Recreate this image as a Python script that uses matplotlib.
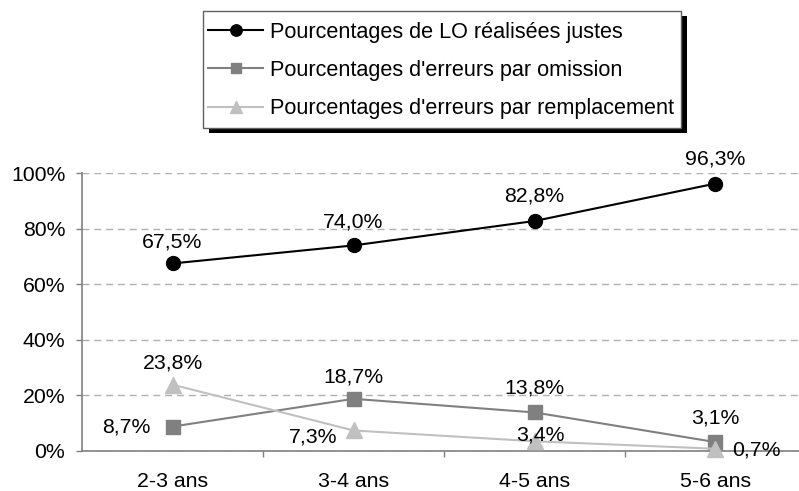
import matplotlib
matplotlib.use("Agg")
import matplotlib.pyplot as plt
from matplotlib.patches import Rectangle

plt.rcParams['font.family'] = ['Liberation Sans', 'DejaVu Sans']

categories = ["2-3 ans", "3-4 ans", "4-5 ans", "5-6 ans"]
justes = [67.5, 74.0, 82.8, 96.3]
omission = [8.7, 18.7, 13.8, 3.1]
remplacement = [23.8, 7.3, 3.4, 0.7]
series_names = ["Pourcentages de LO réalisées justes",
                "Pourcentages d'erreurs par omission",
                "Pourcentages d'erreurs par remplacement"]
yticks = [0, 20, 40, 60, 80, 100]

W, H = 799, 491
fig = plt.figure(figsize=(W / 100, H / 100), dpi=100)
ax = fig.add_axes([82 / W, (H - 450.7) / H, 724 / W, 277.4 / H])

x = list(range(len(categories)))
styles = [
    dict(color="black", marker="o", markersize=10, mfc="black", mec="black"),
    dict(color="#808080", marker="s", markersize=9.5, mfc="#808080", mec="#808080"),
    dict(color="#c0c0c0", marker="^", markersize=11, mfc="#c0c0c0", mec="#c0c0c0"),
]
handles = []
for vals, st, name in zip([justes, omission, remplacement], styles, series_names):
    h, = ax.plot(x, vals, lw=1.5, label=name, clip_on=False, zorder=3, **st)
    handles.append(h)

fmt = lambda v: f"{v:.1f}%".replace(".", ",")
# label offsets in pixels (dx, dy)
offs = [
    [(0, 21), (0, 23), (0, 25), (0, 25)],
    [(-46, 0), (0, 22), (0, 24), (0, 24)],
    [(0, 22), (-40, -7), (6, 6), (41, -1)],
]
for vals, off in zip([justes, omission, remplacement], offs):
    for xi, v, (dx, dy) in zip(x, vals, off):
        ax.annotate(fmt(v), (xi, v), xytext=(dx, dy), textcoords="offset pixels",
                    ha="center", va="center", fontsize=15.3, color="black", zorder=5)

ax.set_xlim(-0.5, 3.5)
ax.set_ylim(0, 100)
ax.set_yticks(yticks)
ax.set_yticklabels([f"{t}%" for t in yticks])
ax.yaxis.grid(True, color="#b0b0b0", linestyle=(0, (5, 3.5)), linewidth=1)
ax.set_axisbelow(True)
ax.set_xticks(x)
ax.set_xticklabels(categories)
ax.set_xticks([0.5, 1.5, 2.5, 3.5], minor=True)
ax.tick_params(axis="x", which="major", length=0, pad=15, labelsize=15.3)
ax.tick_params(axis="x", which="minor", length=4, width=1, color="#808080", direction="out")
ax.tick_params(axis="y", length=4, width=1, color="#808080", pad=8, labelsize=15.3)
for s in ["top", "right"]:
    ax.spines[s].set_visible(False)
for s in ["left", "bottom"]:
    ax.spines[s].set_color("#808080")
    ax.spines[s].set_linewidth(1.2)

# legend box with shadow (pixel coordinates)
bx0, bx1, by0, by1 = 203, 681, 11, 128
fig.patches.append(Rectangle(((bx0 + 6) / W, (H - by1 - 5) / H), (bx1 - bx0) / W, (by1 - by0) / H,
                             transform=fig.transFigure, facecolor="black", edgecolor="none", zorder=1))
fig.patches.append(Rectangle((bx0 / W, (H - by1) / H), (bx1 - bx0) / W, (by1 - by0) / H,
                             transform=fig.transFigure, facecolor="white", edgecolor="#606060",
                             linewidth=1, zorder=2))
leg = fig.legend(handles=handles, loc="center left",
                 bbox_to_anchor=(208 / W, (H - (by0 + by1) / 2 - 1) / H),
                 frameon=False, fontsize=15.6, handlelength=2.55, handletextpad=0.33,
                 labelspacing=0.8, borderpad=0, borderaxespad=0, markerscale=0.82)
leg.set_zorder(3)

fig.savefig("out.png", dpi=100)
